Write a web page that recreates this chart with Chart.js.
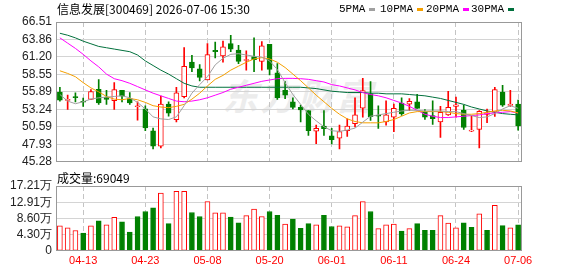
<!DOCTYPE html>
<html>
<head>
<meta charset="utf-8">
<script src="https://cdn.jsdelivr.net/npm/chart.js@4.4.1/dist/chart.umd.min.js"></script>
<style>
  body { margin: 0; background: #fff; }
  #wrap { position: relative; width: 578px; height: 276px; overflow: hidden; font-family: "Noto Sans CJK SC", sans-serif; }
  canvas { position: absolute; left: 0; }
  #priceCanvas { top: 0; }
  #volCanvas { top: 170px; }
  .title { position: absolute; left: 57px; top: 1px; font-size: 12px; line-height: 16px; color: #000; white-space: nowrap; }
  .volTitle { position: absolute; left: 57px; top: 170px; font-size: 12px; line-height: 16px; color: #000; white-space: nowrap; }
  .legendItem { position: absolute; top: 2px; font-family: "Liberation Mono", monospace; font-size: 11px; line-height: 14px; color: #000; white-space: nowrap; }
  .legendItem i { display: inline-block; width: 6px; height: 3px; margin-left: 4px; vertical-align: middle; }
  .watermark { position: absolute; left: 222px; top: 68px; font-size: 36px; font-weight: bold; font-style: italic; color: #ececec; letter-spacing: 2px; white-space: nowrap; }
</style>
</head>
<body>
<div id="wrap">
  <div class="watermark">东方财富</div>
  <canvas id="priceCanvas" width="578" height="173"></canvas>
  <canvas id="volCanvas" width="578" height="106"></canvas>
  <div class="title">信息发展[300469] 2026-07-06 15:30</div>
  <div id="legend"></div>
  <div class="volTitle">成交量:69049</div>
</div>
<script>
const dates = ['04-08','04-09','04-10','04-13','04-14','04-15','04-16','04-17','04-20','04-21',
  '04-22','04-23','04-24','04-27','04-28','04-29','04-30','05-06','05-07','05-08',
  '05-11','05-12','05-13','05-14','05-15','05-18','05-19','05-20','05-21','05-22',
  '05-25','05-26','05-27','05-28','05-29','06-01','06-02','06-03','06-04','06-05',
  '06-08','06-09','06-10','06-11','06-12','06-15','06-16','06-17','06-18','06-22',
  '06-23','06-24','06-25','06-26','06-29','06-30','07-01','07-02','07-03','07-06'];

const opens = [55.85,54.62,55.10,54.47,54.77,56.29,55.11,54.57,56.14,54.87,
  53.64,53.34,50.00,47.64,54.03,51.67,55.16,60.42,59.39,57.72,
  62.19,61.35,63.22,62.24,60.67,61.26,60.52,63.12,58.80,56.14,
  54.37,53.54,53.05,49.95,50.69,49.22,48.87,50.00,51.08,53.44,
  55.65,52.35,51.33,52.07,54.18,54.03,54.37,52.90,52.31,51.33,
  52.41,53.69,53.15,49.95,50.20,52.46,52.80,55.85,53.84,54.03];
const highs = [56.59,55.41,55.75,54.97,56.24,57.77,56.14,57.32,56.14,55.80,
  54.37,53.79,50.40,55.26,54.37,56.59,62.63,61.45,60.03,63.22,
  63.47,63.61,64.50,62.98,62.14,64.11,63.52,63.12,60.18,57.47,
  55.01,53.89,53.05,50.84,53.05,50.35,50.84,51.82,55.01,57.96,
  57.47,53.79,54.52,54.03,55.01,54.87,55.51,53.20,54.52,53.69,
  56.00,55.11,53.89,52.31,53.05,53.30,56.59,56.88,56.14,54.67];
const lows = [54.50,53.24,54.37,53.69,54.70,53.98,53.98,53.25,54.37,53.98,
  51.62,50.00,47.25,47.40,52.21,51.33,54.97,58.95,57.57,57.70,
  61.06,60.42,62.00,60.18,59.19,58.95,59.19,58.46,54.77,54.87,
  53.30,51.33,49.27,48.04,49.27,47.99,47.25,49.12,50.59,52.07,
  51.58,50.35,50.84,49.86,52.31,53.05,53.39,51.72,50.94,48.97,
  52.31,52.07,50.20,49.86,47.40,51.23,52.16,53.69,53.69,50.10];
const closes = [54.63,54.70,55.02,54.32,55.95,54.23,54.77,56.24,55.26,54.23,
  53.74,50.44,47.64,54.03,52.66,55.75,59.78,59.54,58.11,61.55,
  61.99,62.73,62.39,60.52,60.76,60.78,62.88,59.29,55.01,55.41,
  53.54,53.15,50.00,50.35,50.30,48.63,49.86,50.69,52.41,56.10,
  52.15,52.20,52.41,53.39,52.56,54.47,53.39,52.07,51.82,52.80,
  53.54,53.93,50.49,50.10,52.95,52.71,56.24,53.89,54.03,50.74];

// volume in 万
const volumes = [6.62,6.13,5.38,4.72,6.62,7.95,6.87,8.86,7.70,4.97,
  9.11,10.43,11.42,15.31,7.20,15.81,15.81,10.18,9.11,13.08,
  10.10,10.10,8.94,7.45,9.35,11.09,9.11,10.43,9.44,7.12,
  8.44,5.96,7.20,6.87,9.44,6.46,6.62,6.37,9.35,13.08,
  10.43,5.88,6.87,7.12,5.21,5.88,7.20,5.46,5.46,9.35,
  7.37,6.13,7.45,6.21,9.85,5.46,12.09,6.70,6.13,6.90];

const ma5 = [55.5,54.5,54.1,54.4,54.8,55.0,55.1,55.2,55.3,55.0,
  54.3,53.3,52.1,51.8,51.7,52.1,53.8,55.7,57.0,58.2,
  60.0,61.0,61.6,61.7,61.5,61.3,61.2,60.6,59.3,57.3,
  55.5,54.0,52.5,51.5,50.6,50.0,49.9,50.1,50.4,51.3,
  52.2,52.4,52.6,52.8,53.0,53.1,53.1,53.0,53.0,53.0,
  52.9,52.9,52.6,52.3,52.0,52.1,52.6,53.3,53.8,53.4];
const ma10 = [59.1,58.7,58.2,57.3,56.5,55.9,55.2,54.8,54.7,54.9,
  54.7,54.3,53.8,53.6,53.5,53.7,54.0,54.8,55.7,56.8,
  57.8,58.4,59.2,59.8,60.4,60.9,61.1,60.9,60.4,59.6,
  58.6,57.6,56.5,55.4,54.4,53.4,52.5,51.8,51.4,51.2,
  51.2,51.2,51.4,51.7,52.2,52.7,52.9,52.9,52.9,52.9,
  52.8,52.6,52.5,52.5,52.6,52.8,53.0,53.1,53.0,52.7];
const ma20 = [64.1,63.3,62.5,61.6,60.6,59.7,58.6,57.9,57.6,57.2,
  56.7,56.2,55.7,55.3,54.9,54.5,54.4,54.5,54.7,55.0,
  55.4,55.8,56.3,56.6,56.9,57.2,57.5,57.7,57.9,57.95,
  57.95,57.9,57.8,57.6,57.4,57.0,56.8,56.5,56.2,55.8,
  55.5,55.3,55.0,54.6,54.2,53.7,53.1,52.5,52.2,52.0,
  52.0,52.1,52.2,52.3,52.4,52.6,52.7,52.8,52.9,52.7];
const ma30 = [64.8,64.5,64.1,63.6,63.2,62.8,62.6,62.4,62.2,62.0,
  61.5,60.6,59.9,59.2,58.6,57.9,57.2,56.8,56.6,56.6,
  56.6,56.6,56.6,56.6,56.6,56.6,56.6,56.6,56.6,56.6,
  56.6,56.6,56.5,56.4,56.2,56.0,55.9,55.8,55.8,55.8,
  55.7,55.7,55.6,55.6,55.6,55.5,55.4,55.3,55.1,54.9,
  54.6,54.3,54.0,53.6,53.3,53.0,52.8,52.6,52.5,52.4];

const maNames = ['5PMA', '10PMA', '20PMA', '30PMA'];
const maColors = ['#a0a0a0', '#f5a000', '#ff00ff', '#00703c'];
const maLegendLeft = [339, 380, 426, 471];

const priceTicks = [45.28, 47.93, 50.59, 53.24, 55.89, 58.55, 61.20, 63.86, 66.51];
const priceTickLabels = ['45.28', '47.93', '50.59', '53.24', '55.89', '58.55', '61.20', '63.86', '66.51'];
const volTicks = [0, 4.30, 8.60, 12.91, 17.21];
const volTickLabels = ['0', '4.30万', '8.60万', '12.91万', '17.21万'];

const RED = '#ff0000';
const GREEN = '#008000';
const GRID = '#d4d4d4';

// legend (html text)
const legendEl = document.getElementById('legend');
maNames.forEach((name, i) => {
    const item = document.createElement('div');
    item.className = 'legendItem';
    item.style.left = maLegendLeft[i] + 'px';
    item.innerHTML = `${name}<i style="background:${maColors[i]}"></i>`;
    legendEl.appendChild(item);
});

const candleUp = opens.map((o, i) => closes[i] >= o);
const volUp = closes.map((c, i) => i === 0 || c >= closes[i - 1]);

const isGridTick = (i) => i % 8 === 3;

const framePlugin = {
    id: 'frame',
    afterDraw: (chart) => {
        const { ctx, chartArea: a } = chart;
        ctx.save();
        ctx.strokeStyle = '#999';
        ctx.lineWidth = 1;
        ctx.strokeRect(Math.round(a.left) + 0.5, Math.round(a.top) + 0.5,
            Math.round(a.width) - 1, Math.round(a.height) - 1);
        ctx.restore();
    }
};

const xGrid = {
    offset: false,
    drawTicks: false,
    lineWidth: 1,
    color: (c) => (isGridTick(c.index) ? '#c4c4c4' : 'rgba(0,0,0,0)')
};

const tickFont = { family: 'Liberation Sans', size: 12 };

const lineSet = (data, i) => ({
    type: 'line',
    label: maNames[i],
    data: data,
    borderColor: maColors[i],
    borderWidth: 1,
    pointRadius: 0,
    tension: 0,
    order: 0
});

new Chart(document.getElementById('priceCanvas'), {
    type: 'bar',
    data: {
        labels: dates,
        datasets: [
            lineSet(ma5, 0),
            lineSet(ma10, 1),
            lineSet(ma20, 2),
            lineSet(ma30, 3),
            {
                label: 'body',
                data: opens.map((o, i) => [o, closes[i]]),
                backgroundColor: candleUp.map((u) => (u ? '#fff' : GREEN)),
                borderColor: candleUp.map((u) => (u ? RED : GREEN)),
                borderWidth: 1,
                borderSkipped: false,
                barThickness: 5,
                minBarLength: 1,
                grouped: false,
                order: 1
            },
            {
                label: 'wick',
                data: lows.map((l, i) => [l, highs[i]]),
                backgroundColor: candleUp.map((u) => (u ? RED : GREEN)),
                barThickness: 1,
                grouped: false,
                order: 2
            }
        ]
    },
    options: {
        responsive: false,
        animation: false,
        layout: { padding: { top: 22, right: 56, left: 0, bottom: 0 } },
        plugins: { legend: { display: false }, tooltip: { enabled: false } },
        scales: {
            x: {
                offset: true,
                grid: xGrid,
                border: { display: false, dash: [5, 3] },
                ticks: { display: false }
            },
            y: {
                min: 45.28,
                max: 66.51,
                afterFit: (s) => { s.width = 56; },
                afterBuildTicks: (s) => { s.ticks = priceTicks.map((v) => ({ value: v })); },
                grid: { color: GRID, drawTicks: false },
                border: { display: false },
                ticks: {
                    autoSkip: false,
                    callback: (v, i) => priceTickLabels[i],
                    font: tickFont,
                    color: '#222',
                    padding: 4
                }
            }
        }
    },
    plugins: [framePlugin]
});

new Chart(document.getElementById('volCanvas'), {
    type: 'bar',
    data: {
        labels: dates,
        datasets: [{
            label: '成交量',
            data: volumes,
            backgroundColor: volUp.map((u) => (u ? '#fff' : GREEN)),
            borderColor: volUp.map((u) => (u ? RED : GREEN)),
            borderWidth: 1,
            borderSkipped: false,
            barThickness: 5
        }]
    },
    options: {
        responsive: false,
        animation: false,
        layout: { padding: { top: 16, right: 56, left: 0, bottom: 4 } },
        plugins: { legend: { display: false }, tooltip: { enabled: false } },
        scales: {
            x: {
                offset: true,
                grid: xGrid,
                border: { display: false, dash: [5, 3] },
                ticks: {
                    autoSkip: false,
                    maxRotation: 0,
                    callback: (v, i) => (isGridTick(i) ? dates[i] : ''),
                    color: RED,
                    font: { family: 'Liberation Sans', size: 11 },
                    padding: 4
                }
            },
            y: {
                min: 0,
                max: 17.21,
                afterFit: (s) => { s.width = 56; },
                afterBuildTicks: (s) => { s.ticks = volTicks.map((v) => ({ value: v })); },
                grid: { color: GRID, drawTicks: false },
                border: { display: false },
                ticks: {
                    autoSkip: false,
                    callback: (v, i) => volTickLabels[i],
                    font: tickFont,
                    color: '#222',
                    padding: 4
                }
            }
        }
    },
    plugins: [framePlugin]
});
</script>
</body>
</html>
